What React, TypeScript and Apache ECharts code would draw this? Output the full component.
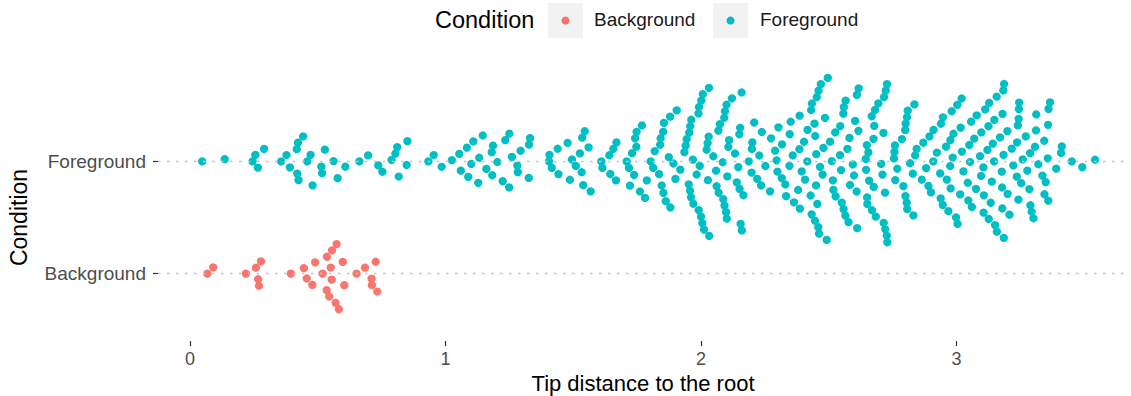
import { useEffect, useRef } from "react";
import * as echarts from "echarts";

// Conditions on the vertical axis (index 0 at the bottom)
const categories = ["Background", "Foreground"];

// Tip distance to the root for every tip, by condition
const backgroundDist = [
  0.068, 0.091, 0.219, 0.258, 0.278, 0.267, 0.27, 0.395, 0.446, 0.457,
  0.479, 0.49, 0.519, 0.535, 0.555, 0.574, 0.551, 0.57, 0.598, 0.604,
  0.536, 0.545, 0.556, 0.583, 0.652, 0.685, 0.727, 0.711, 0.712, 0.733,
];

const foregroundDist = [
  0.048, 0.136, 0.256, 0.29, 0.245, 0.266, 0.357, 0.378, 0.391, 0.418,
  0.425, 0.472, 0.48, 0.42, 0.423, 0.443, 0.459, 0.517, 0.562, 0.514,
  0.528, 0.578, 0.608, 0.663, 0.697,
  0.753, 0.737, 0.789, 0.811, 0.848, 0.851, 0.804, 0.817, 0.933, 0.954,
  0.985, 1.025, 1.054, 1.06, 1.084, 1.109, 1.101, 1.089, 1.128, 1.132,
  1.146, 1.16, 1.186, 1.181, 1.183, 1.203, 1.224, 1.26, 1.249, 1.25,
  1.234, 1.281, 1.283, 1.294, 1.331, 1.326, 1.327,
  1.405, 1.407, 1.416, 1.439, 1.442, 1.478, 1.487, 1.51, 1.526, 1.533,
  1.495, 1.539, 1.568, 1.545, 1.535, 1.56, 1.614, 1.61, 1.641, 1.645,
  1.669, 1.657, 1.667, 1.709, 1.718, 1.747, 1.722, 1.761, 1.781, 1.742,
  1.738, 1.748, 1.73, 1.769, 1.788, 1.819, 1.836, 1.846, 1.813, 1.84,
  1.803, 1.842, 1.862, 1.852, 1.879, 1.905, 1.853, 1.855, 1.88, 1.9,
  1.874, 1.892, 1.919, 1.935, 1.94, 1.944, 1.957, 1.962, 1.99, 1.97,
  1.995, 2.005, 2.031, 2.03, 1.952, 1.954, 1.958, 1.968, 1.991, 1.992,
  2.0, 2.007, 2.032, 1.961, 1.983, 2.001, 2.012, 2.022, 2.026, 2.027,
  2.048, 2.059, 2.068, 2.069, 2.091, 2.092, 2.101, 2.107, 2.15, 2.159,
  2.11, 2.103, 2.094, 2.087, 2.074, 2.155, 2.061, 2.133, 2.166, 2.14,
  2.1, 2.098, 2.085, 2.121, 2.153, 2.16, 2.187, 2.238, 2.146, 2.151,
  2.198, 2.208, 2.235, 2.228, 2.199, 2.201, 2.22, 2.252, 2.27, 2.274,
  2.29, 2.317, 2.346, 2.359, 2.403, 2.316, 2.33, 2.347, 2.299, 2.296,
  2.303, 2.333, 2.351, 2.364, 2.407, 2.385, 2.386, 2.416, 2.38, 2.429,
  2.433, 2.387, 2.394, 2.417, 2.431, 2.45, 2.444, 2.451, 2.455, 2.459,
  2.434, 2.446, 2.447, 2.453, 2.46, 2.462, 2.466, 2.492, 2.469, 2.485,
  2.505, 2.479, 2.525, 2.516, 2.512, 2.518, 2.476, 2.496, 2.527, 2.551,
  2.544, 2.557, 2.558, 2.565, 2.573, 2.545, 2.548, 2.559, 2.566, 2.616,
  2.609, 2.577, 2.583, 2.581, 2.599, 2.594, 2.603, 2.61, 2.611, 2.649,
  2.645, 2.675, 2.646, 2.668, 2.684, 2.676, 2.694, 2.65, 2.651, 2.658,
  2.655, 2.678, 2.617, 2.669, 2.681,
  2.727, 2.72, 2.714, 2.71, 2.759, 2.757, 2.728, 2.729, 2.705, 2.721,
  2.76, 2.799, 2.8, 2.805, 2.831, 2.715, 2.716, 2.723, 2.838, 2.829,
  2.801, 2.786, 2.806, 2.809, 2.818, 2.755, 2.768, 2.792, 2.807, 2.844,
  2.835, 2.881, 2.864, 2.89, 2.909, 2.9, 2.87, 2.894, 2.923, 2.91,
  2.939, 2.959, 2.975, 2.985, 3.016, 3.027, 2.938, 2.976, 3.003, 3.004,
  3.014, 3.06, 3.092, 3.096, 3.128, 3.147, 3.157, 3.177, 2.936, 2.946,
  2.962, 2.977, 2.988, 3.02, 2.968, 2.947, 2.981, 2.998, 3.021, 3.053,
  3.069, 3.05, 3.046, 3.057, 3.044, 3.076, 3.105, 3.079, 3.112, 3.125,
  3.106, 3.126, 3.107, 3.142, 3.138, 3.158, 3.178, 3.097, 3.121, 3.134,
  3.151, 3.179, 3.183, 3.148, 3.18, 3.184, 3.185, 3.207, 3.236, 3.17,
  3.186, 3.199, 3.222, 3.216, 3.253, 3.259, 3.285, 3.311, 3.288, 3.294,
  3.32, 3.242, 3.243, 3.357, 3.359, 3.2, 3.237, 3.244, 3.289, 3.245,
  3.24, 3.307, 3.358, 3.349, 3.277, 3.301, 3.344, 3.271, 3.312, 3.343,
  3.336, 3.36, 3.366, 3.412, 3.409, 3.39, 3.451, 3.492, 3.542,
];

const xTicks = [0, 1, 2, 3];

const WIDTH = 1131;
const HEIGHT = 396;
const GRID = { left: 158, right: 3, top: 94, bottom: 55 };
const X_MIN = -0.125;
const X_MAX = 3.671;
const Y_MIN = -0.6;
const Y_MAX = 1.6;
// Collision ellipse of the swarm layout, in pixels (along the value axis, across it)
const SWARM_DX = 24;
const SWARM_DY = 6.5;

const COLORS = { Background: "#F8766D", Foreground: "#00BFC4" };
const FONT = "'Liberation Sans', Arial, Helvetica, sans-serif";

// Swarm layout (ascending priority): each point takes the offset closest to
// the centre line that does not collide with points already placed.
function swarmOffsets(values: number[], pxPerUnit: number, dx: number, dy: number): number[] {
  const order = values.map((_, i) => i).sort((a, b) => values[a] - values[b] || a - b);
  const placedX: number[] = [];
  const placedY: number[] = [];
  const out = new Array(values.length).fill(0);
  for (const i of order) {
    const xi = (values[i] * pxPerUnit) / dx;
    const px: number[] = [];
    const py: number[] = [];
    for (let k = 0; k < placedX.length; k++) {
      if (Math.abs(xi - placedX[k]) < 1) {
        px.push(placedX[k]);
        py.push(placedY[k]);
      }
    }
    let y = 0;
    if (px.length) {
      const cand = [0];
      for (let k = 0; k < px.length; k++) cand.push(py[k] + Math.sqrt(1 - (xi - px[k]) ** 2));
      for (let k = 0; k < px.length; k++) cand.push(py[k] - Math.sqrt(1 - (xi - px[k]) ** 2));
      let best = 0;
      let bestAbs = Infinity;
      for (const c of cand) {
        let bad = false;
        for (let k = 0; k < px.length; k++) {
          if ((xi - px[k]) ** 2 + (c - py[k]) ** 2 < 0.999) {
            bad = true;
            break;
          }
        }
        if (!bad && Math.abs(c) < bestAbs) {
          bestAbs = Math.abs(c);
          best = c;
        }
      }
      y = best;
    }
    placedX.push(xi);
    placedY.push(y);
    out[i] = y * dy;
  }
  return out;
}

export default function App() {
  const ref = useRef<HTMLDivElement>(null);

  useEffect(() => {
    if (!ref.current) return;
    const chart = echarts.init(ref.current, null, { renderer: "svg" });

    const gridW = WIDTH - GRID.left - GRID.right;
    const gridH = HEIGHT - GRID.top - GRID.bottom;
    const pxPerX = gridW / (X_MAX - X_MIN);
    const pxPerRow = gridH / (Y_MAX - Y_MIN);

    const build = (values: number[], row: number) => {
      const offs = swarmOffsets(values, pxPerX, SWARM_DX, SWARM_DY);
      return values.map((v, i) => [v, row + offs[i] / pxPerRow]);
    };

    const rowLine = (row: number) => ({
      silent: true,
      symbol: "none",
      label: { show: false },
      lineStyle: { color: "#C4C4C4", type: [2.5, 6.5], width: 1.4 },
      data: [{ yAxis: row }],
    });

    chart.setOption({
      animation: false,
      grid: { ...GRID, containLabel: false, outerBoundsMode: "none" },
      xAxis: {
        type: "value",
        min: X_MIN,
        max: X_MAX,
        name: "Tip distance to the root",
        nameLocation: "middle",
        nameGap: 31,
        nameMoveOverlap: false,
        nameTextStyle: { fontFamily: FONT, fontSize: 22, color: "#000" },
        axisLine: { show: false, onZero: false },
        axisTick: {
          show: true,
          customValues: xTicks,
          length: 5,
          lineStyle: { color: "#333", width: 1.2 },
        },
        axisLabel: {
          customValues: xTicks,
          margin: 9,
          fontFamily: FONT,
          fontSize: 18,
          color: "#4D4D4D",
        },
        splitLine: { show: false },
      },
      yAxis: {
        type: "value",
        min: Y_MIN,
        max: Y_MAX,
        name: "Condition",
        nameLocation: "middle",
        nameGap: 128,
        nameMoveOverlap: false,
        nameTextStyle: { fontFamily: FONT, fontSize: 23, color: "#000" },
        axisLine: { show: false, onZero: false },
        axisTick: {
          show: true,
          customValues: [0, 1],
          length: 5,
          lineStyle: { color: "#333", width: 1.2 },
        },
        axisLabel: {
          customValues: [0, 1],
          margin: 12,
          fontFamily: FONT,
          fontSize: 19,
          color: "#4D4D4D",
          formatter: (v: number) => categories[Math.round(v)] ?? "",
        },
        splitLine: { show: false },
      },
      series: [
        {
          name: "Background",
          type: "scatter",
          clip: false,
          symbol: "circle",
          symbolSize: 8.3,
          itemStyle: { color: COLORS.Background, opacity: 1 },
          markLine: rowLine(0),
          data: build(backgroundDist, 0),
        },
        {
          name: "Foreground",
          type: "scatter",
          clip: false,
          symbol: "circle",
          symbolSize: 8.3,
          itemStyle: { color: COLORS.Foreground, opacity: 1 },
          markLine: rowLine(1),
          data: build(foregroundDist, 1),
        },
      ],
      graphic: [
        {
          type: "text",
          left: 435,
          top: 8,
          style: { text: "Condition", font: `23.5px ${FONT}`, fill: "#000" },
        },
        { type: "rect", shape: { x: 548, y: 3, width: 35, height: 35 }, style: { fill: "#F2F2F2" } },
        { type: "circle", shape: { cx: 565.5, cy: 20.5, r: 4 }, style: { fill: COLORS.Background } },
        {
          type: "text",
          left: 594,
          top: 10,
          style: { text: "Background", font: `19px ${FONT}`, fill: "#1A1A1A" },
        },
        { type: "rect", shape: { x: 713, y: 3, width: 35, height: 35 }, style: { fill: "#F2F2F2" } },
        { type: "circle", shape: { cx: 730.5, cy: 20.5, r: 4 }, style: { fill: COLORS.Foreground } },
        {
          type: "text",
          left: 760,
          top: 10,
          style: { text: "Foreground", font: `19px ${FONT}`, fill: "#1A1A1A" },
        },
      ],
    });

    return () => chart.dispose();
  }, []);

  return (
    <div
      ref={ref}
      style={{ position: "fixed", left: 0, top: 0, width: WIDTH, height: HEIGHT, background: "#fff" }}
    />
  );
}
